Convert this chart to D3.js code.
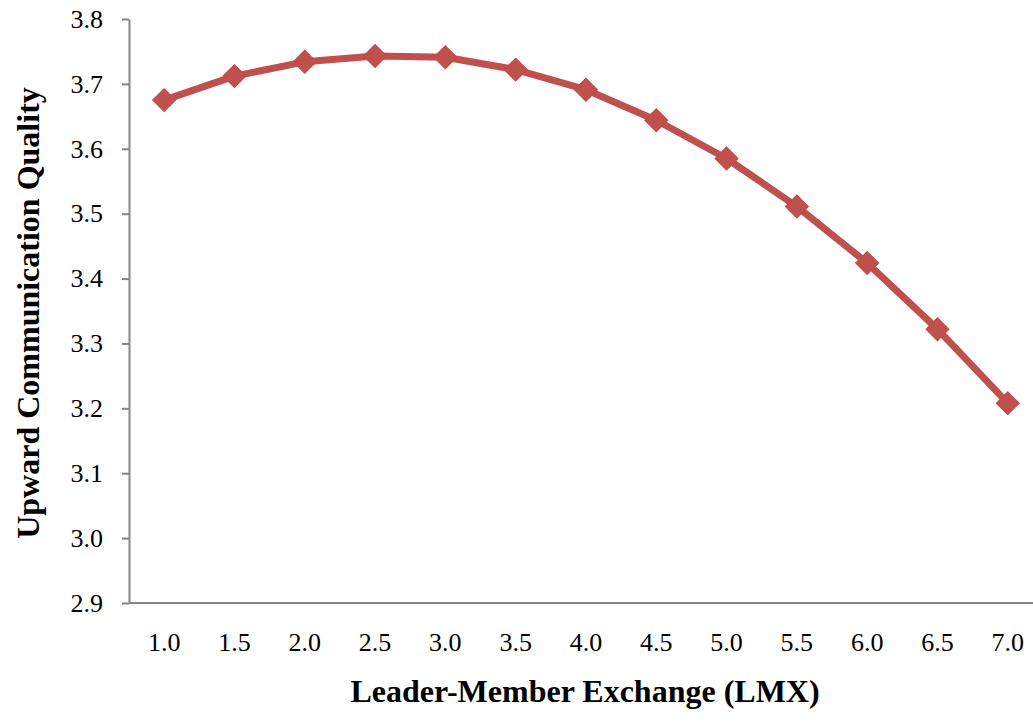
<!DOCTYPE html>
<html>
<head>
<meta charset="utf-8">
<title>Upward Communication Quality by LMX</title>
<script src="https://d3js.org/d3.v7.min.js"></script>
<style>
  body { margin: 0; background: #fff; }
</style>
</head>
<body>
<div id="chart"></div>
<script>
// data
const lmxLevels = ["1.0", "1.5", "2.0", "2.5", "3.0", "3.5", "4.0", "4.5", "5.0", "5.5", "6.0", "6.5", "7.0"];
const quality = [3.675, 3.712, 3.734, 3.743, 3.741, 3.722, 3.691, 3.644, 3.585, 3.511, 3.424, 3.322, 3.208];
const yTicks = [2.9, 3.0, 3.1, 3.2, 3.3, 3.4, 3.5, 3.6, 3.7, 3.8];

const width = 1033, height = 721;
const plotLeft = 129, plotTop = 19, plotBottom = 603;
const serif = "'Liberation Serif', 'Times New Roman', serif";

const svg = d3.select("#chart").append("svg")
    .attr("width", width)
    .attr("height", height)
    .style("font-family", serif);

const x = d3.scaleBand()
    .domain(lmxLevels)
    .range([plotLeft, plotLeft + 13 * 70.3])
    .padding(0);

const y = d3.scaleLinear()
    .domain([2.9, 3.8])
    .range([plotBottom, plotTop]);

// y axis
const yAxis = svg.append("g")
    .attr("transform", `translate(${plotLeft},0)`)
    .call(d3.axisLeft(y).tickValues(yTicks).tickFormat(d3.format(".1f")).tickSize(7).tickPadding(19).tickSizeOuter(0));
yAxis.attr("font-family", serif).attr("font-size", 26);
yAxis.select(".domain").attr("stroke", "#868686").attr("stroke-width", 2);
yAxis.selectAll(".tick line").attr("stroke", "#868686").attr("stroke-width", 2);
yAxis.selectAll(".tick text").attr("fill", "#000");

// x axis (no tick marks)
const xAxis = svg.append("g")
    .attr("transform", `translate(0,${plotBottom})`)
    .call(d3.axisBottom(x).tickSize(0).tickPadding(30).tickSizeOuter(0));
xAxis.attr("font-family", serif).attr("font-size", 26);
xAxis.select(".domain").attr("stroke", "#868686").attr("stroke-width", 2)
    .attr("d", `M${plotLeft},0H${width}`);
xAxis.selectAll(".tick text").attr("fill", "#000");

// axis titles
svg.append("text")
    .attr("x", 585)
    .attr("y", 702)
    .attr("text-anchor", "middle")
    .attr("font-size", 32)
    .attr("font-weight", "bold")
    .text("Leader-Member Exchange (LMX)");

svg.append("text")
    .attr("transform", "translate(39,313) rotate(-90)")
    .attr("text-anchor", "middle")
    .attr("font-size", 32)
    .attr("font-weight", "bold")
    .text("Upward Communication Quality");

// series
const pts = lmxLevels.map((k, i) => [x(k) + x.bandwidth() / 2, y(quality[i])]);

svg.append("path")
    .datum(pts)
    .attr("fill", "none")
    .attr("stroke", "#C0504D")
    .attr("stroke-width", 7)
    .attr("stroke-linejoin", "round")
    .attr("d", d3.line());

svg.selectAll(".marker")
    .data(pts)
    .enter()
    .append("path")
    .attr("class", "marker")
    .attr("transform", d => `translate(${d[0]},${d[1]}) rotate(45)`)
    .attr("d", d3.symbol(d3.symbolSquare, 265))
    .attr("fill", "#C0504D")
    .attr("stroke", "#BE4B48")
    .attr("stroke-width", 1);
</script>
</body>
</html>
